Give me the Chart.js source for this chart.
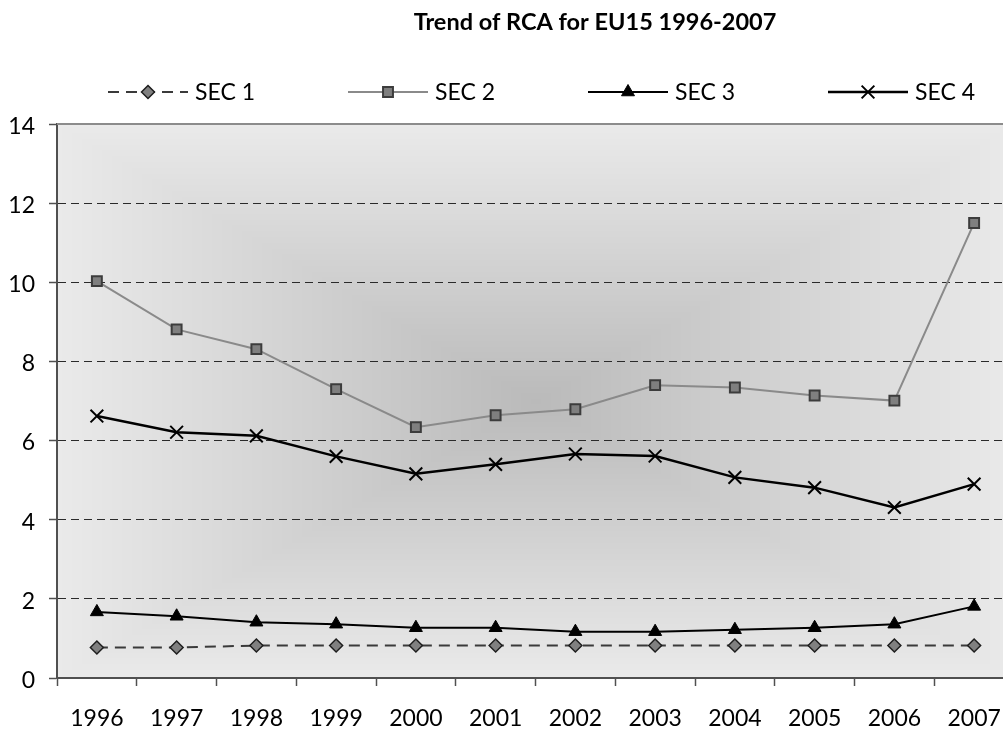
<!DOCTYPE html>
<html>
<head>
  <meta charset="utf-8">
  <title>Trend of RCA for EU15 1996-2007</title>
  <script src="https://cdn.jsdelivr.net/npm/chart.js"></script>
  <style>
    html, body { margin: 0; padding: 0; background: #fff; overflow: hidden; }
    .wrap { width: 1190px; height: 734px; }
  </style>
</head>
<body>
  <div class="wrap">
    <canvas id="rcaChart" width="1190" height="734"></canvas>
  </div>
  <script>
    // 数据
    const years = ['1996', '1997', '1998', '1999', '2000', '2001', '2002', '2003', '2004', '2005', '2006', '2007'];
    const sec1 = [0.77, 0.77, 0.82, 0.82, 0.82, 0.82, 0.82, 0.82, 0.82, 0.82, 0.82, 0.82];
    const sec2 = [10.03, 8.81, 8.31, 7.30, 6.34, 6.64, 6.79, 7.40, 7.34, 7.14, 7.01, 11.50];
    const sec3 = [1.67, 1.56, 1.41, 1.36, 1.27, 1.27, 1.17, 1.17, 1.22, 1.27, 1.36, 1.81];
    const sec4 = [6.62, 6.21, 6.12, 5.60, 5.16, 5.40, 5.66, 5.61, 5.07, 4.81, 4.31, 4.90];
    const yTicks = [0, 2, 4, 6, 8, 10, 12, 14];

    const FONT = 'Lato, "Open Sans", sans-serif';

    // 绘图区背景：从中心向外的矩形渐变
    let bgCache = null;
    const plotBackground = {
      id: 'plotBackground',
      beforeDraw(chart) {
        const a = chart.chartArea;
        const w = Math.round(a.right - a.left), h = Math.round(a.bottom - a.top);
        if (!bgCache || bgCache.width !== w || bgCache.height !== h) {
          bgCache = document.createElement('canvas');
          bgCache.width = w; bgCache.height = h;
          const c = bgCache.getContext('2d');
          const img = c.createImageData(w, h);
          const cx = w / 2, cy = h / 2;
          const inner = 186, outer = 234;
          for (let y = 0; y < h; y++) {
            for (let x = 0; x < w; x++) {
              const t = Math.max(Math.abs(x - cx) / cx, Math.abs(y - cy) / cy);
              const v = Math.round(inner + (outer - inner) * Math.min(1, t));
              const k = (y * w + x) * 4;
              img.data[k] = v; img.data[k + 1] = v; img.data[k + 2] = v; img.data[k + 3] = 255;
            }
          }
          c.putImageData(img, 0, 0);
        }
        chart.ctx.drawImage(bgCache, a.left, a.top);
      },
      beforeDatasetsDraw(chart) {
        const a = chart.chartArea, ctx = chart.ctx;
        ctx.save();
        ctx.strokeStyle = '#8c8c8c';
        ctx.lineWidth = 2;
        ctx.beginPath();
        ctx.moveTo(a.left, a.top);
        ctx.lineTo(a.right, a.top);
        ctx.stroke();
        ctx.restore();
      }
    };

    // 图例：线段 + 标记 + 文字
    const LEGEND_X = [108, 348, 588, 828];
    const LEGEND_Y = 92;
    const lineLegend = {
      id: 'lineLegend',
      afterDraw(chart) {
        const ctx = chart.ctx;
        chart.data.datasets.forEach((ds, i) => {
          const x0 = LEGEND_X[i], y = LEGEND_Y;
          ctx.save();
          ctx.strokeStyle = ds.borderColor;
          ctx.lineWidth = ds.borderWidth;
          ctx.setLineDash(ds.borderDash || []);
          ctx.beginPath();
          ctx.moveTo(x0, y);
          ctx.lineTo(x0 + 80, y);
          ctx.stroke();
          ctx.setLineDash([]);
          ctx.fillStyle = ds.pointBackgroundColor;
          ctx.strokeStyle = ds.pointBorderColor;
          ctx.lineWidth = ds.pointBorderWidth;
          Chart.helpers.drawPoint(ctx, {
            pointStyle: ds.pointStyle, radius: ds.pointRadius, rotation: 0, borderWidth: ds.pointBorderWidth
          }, x0 + 40, y);
          ctx.font = '23px ' + FONT;
          ctx.fillStyle = '#000';
          ctx.textAlign = 'left';
          ctx.textBaseline = 'middle';
          ctx.fillText(ds.label, x0 + 87, y + 1);
          ctx.restore();
        });
      }
    };

    const ctx = document.getElementById('rcaChart').getContext('2d');
    new Chart(ctx, {
      type: 'line',
      data: {
        labels: years,
        datasets: [
          {
            label: 'SEC 1', data: sec1,
            borderColor: '#3a3a3a', borderWidth: 2, borderDash: [11, 7],
            pointStyle: 'rectRot', pointRadius: 6.5,
            pointBackgroundColor: '#808080', pointBorderColor: '#1e1e1e', pointBorderWidth: 1.5
          },
          {
            label: 'SEC 2', data: sec2,
            borderColor: '#8a8a8a', borderWidth: 2,
            pointStyle: 'rect', pointRadius: 7,
            pointBackgroundColor: '#7f7f7f', pointBorderColor: '#3c3c3c', pointBorderWidth: 2
          },
          {
            label: 'SEC 3', data: sec3,
            borderColor: '#000', borderWidth: 2,
            pointStyle: 'triangle', pointRadius: 7.5,
            pointBackgroundColor: '#000', pointBorderColor: '#000', pointBorderWidth: 1
          },
          {
            label: 'SEC 4', data: sec4,
            borderColor: '#000', borderWidth: 2.5,
            pointStyle: 'crossRot', pointRadius: 9,
            pointBackgroundColor: '#000', pointBorderColor: '#000', pointBorderWidth: 2
          }
        ]
      },
      options: {
        responsive: false,
        animation: false,
        tension: 0,
        layout: { padding: 0 },
        plugins: {
          legend: { display: false },
          tooltip: { enabled: false },
          title: {
            display: true,
            text: 'Trend of RCA for EU15 1996-2007',
            color: '#000',
            font: { family: FONT, size: 23.5, weight: 'bold' },
            padding: { top: 8.5, bottom: 87.3 }
          }
        },
        scales: {
          x: {
            type: 'category',
            offset: true,
            afterFit(scale) { scale.height = 56; },
            grid: {
              offset: true, drawOnChartArea: false, drawTicks: true,
              tickLength: 8, tickColor: '#505050', tickWidth: 1.5
            },
            border: { display: true, color: '#505050', width: 2 },
            ticks: { color: '#000', font: { family: FONT, size: 23 }, padding: 19, maxRotation: 0, autoSkip: false }
          },
          y: {
            min: 0, max: 14,
            afterFit(scale) { scale.width = 57; },
            afterBuildTicks(scale) { scale.ticks = yTicks.map(v => ({ value: v })); },
            grid: {
              drawTicks: true, tickLength: 8, tickColor: '#505050', tickWidth: 1.5,
              lineWidth: 1,
              color: c => (c.tick && (c.tick.value === 0 || c.tick.value === 14)) ? 'rgba(0,0,0,0)' : '#2a2a2a'
            },
            border: { display: true, color: '#505050', width: 2, dash: [8, 5] },
            ticks: { color: '#000', font: { family: FONT, size: 23 }, padding: 14, labelOffset: 2.5 }
          },
          // 右侧留白（原图在右侧被裁切）
          yPad: {
            position: 'right',
            afterFit(scale) { scale.width = 176; },
            grid: { display: false },
            border: { display: false },
            ticks: { display: false }
          }
        }
      },
      plugins: [plotBackground, lineLegend]
    });
  </script>
</body>
</html>
